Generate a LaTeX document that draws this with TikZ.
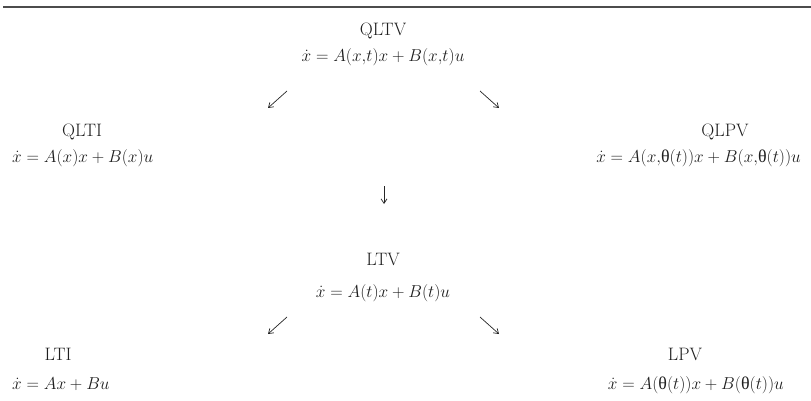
\documentclass[tikz,border=0pt]{standalone}
\usepackage{fontspec}
\newfontfamily\grk{Liberation Serif}
\usetikzlibrary{arrows.meta}
\newcommand{\thT}{\mbox{\grk θ}}
\newcommand{\cm}{\mathord{,}}
\tikzset{
  lbl/.style={anchor=base, inner sep=0pt, font=\fontsize{18}{22}\selectfont, text=black!88},
  glypharrow/.style={line width=0.7pt, draw=black!85, -{Straight Barb[length=4.5pt,width=6pt]}},
  rulebar/.style={line width=1.6pt, draw=black!70}
}
\begin{document}
\begin{tikzpicture}[x=1pt,y=-1pt]
\useasboundingbox (0,0) rectangle (811,401);
% top rule
\coordinate (rl) at (3,7);
\coordinate (rr) at (811,7);
\draw[rulebar] (rl) -- (rr);
% QLTV
\node[lbl] (qltv) at (383,36) {QLTV};
\node[lbl] (qltveq) at (383,62) {$\dot x = A(x\cm t)x + B(x\cm t)u$};
% QLTI
\node[lbl] (qlti) at (82,137) {QLTI};
\node[lbl, anchor=base west] (qltieq) at (12,163) {$\dot x = A(x)x + B(x)u$};
% QLPV
\node[lbl] (qlpv) at (725,137) {QLPV};
\node[lbl, anchor=base east] (qlpveq) at (801,163) {$\dot x = A(x\cm\thT(t))x + B(x\cm\thT(t))u$};
% LTV
\node[lbl] (ltv) at (383,265) {LTV};
\node[lbl] (ltveq) at (383,297) {$\dot x = A(t)x + B(t)u$};
% LTI
\node[lbl] (lti) at (58,360) {LTI};
\node[lbl, anchor=base west] (ltieq) at (12,389) {$\dot x = Ax + Bu$};
% LPV
\node[lbl] (lpv) at (685,360) {LPV};
\node[lbl, anchor=base east] (lpveq) at (784,389) {$\dot x = A(\thT(t))x + B(\thT(t))u$};
% arrows (glyph-like)
\coordinate (a1s) at (287,91);  \coordinate (a1e) at (268,108);
\coordinate (a2s) at (480,91);  \coordinate (a2e) at (499,108);
\coordinate (a3s) at (384,186); \coordinate (a3e) at (384,204);
\coordinate (a4s) at (287,317); \coordinate (a4e) at (268,334);
\coordinate (a5s) at (480,317); \coordinate (a5e) at (499,334);
\draw[glypharrow] (a1s) -- (a1e);
\draw[glypharrow] (a2s) -- (a2e);
\draw[glypharrow] (a3s) -- (a3e);
\draw[glypharrow] (a4s) -- (a4e);
\draw[glypharrow] (a5s) -- (a5e);
\end{tikzpicture}
\end{document}
